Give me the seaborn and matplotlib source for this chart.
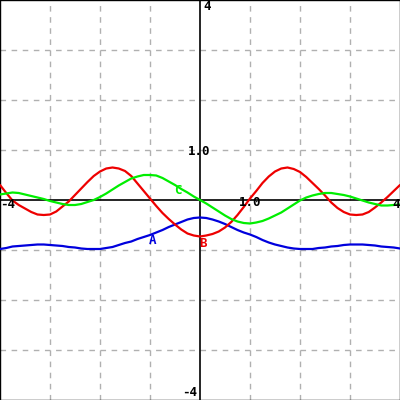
import matplotlib
matplotlib.use("Agg")
import matplotlib.pyplot as plt
import pandas as pd
import seaborn as sns

sns.set_style("white")
plt.rcParams['font.family'] = ['DejaVu Sans Mono', 'DejaVu Sans']

# x positions where the curves were read (every 0.125 from -4 to 4)
x_vals = [-4.0, -3.875, -3.75, -3.625, -3.5, -3.375, -3.25, -3.125,
          -3.0, -2.875, -2.75, -2.625, -2.5, -2.375, -2.25, -2.125,
          -2.0, -1.875, -1.75, -1.625, -1.5, -1.375, -1.25, -1.125,
          -1.0, -0.875, -0.75, -0.625, -0.5, -0.375, -0.25, -0.125,
          0.0, 0.125, 0.25, 0.375, 0.5, 0.625, 0.75, 0.875,
          1.0, 1.125, 1.25, 1.375, 1.5, 1.625, 1.75, 1.875,
          2.0, 2.125, 2.25, 2.375, 2.5, 2.625, 2.75, 2.875,
          3.0, 3.125, 3.25, 3.375, 3.5, 3.625, 3.75, 3.875, 4.0]

curve_a = [-0.98, -0.96, -0.93, -0.92, -0.91, -0.90, -0.89, -0.89,
           -0.90, -0.91, -0.92, -0.94, -0.95, -0.97, -0.98, -0.98,
           -0.98, -0.96, -0.94, -0.90, -0.86, -0.83, -0.78, -0.74,
           -0.70, -0.65, -0.60, -0.54, -0.49, -0.44, -0.39, -0.36,
           -0.35, -0.36, -0.39, -0.43, -0.48, -0.54, -0.60, -0.65,
           -0.69, -0.74, -0.80, -0.85, -0.89, -0.92, -0.95, -0.97,
           -0.98, -0.98, -0.98, -0.96, -0.95, -0.93, -0.92, -0.90,
           -0.89, -0.89, -0.89, -0.90, -0.91, -0.93, -0.94, -0.95, -0.97]
curve_b = [0.30, 0.14, -0.01, -0.10, -0.17, -0.24, -0.29, -0.30,
           -0.29, -0.23, -0.13, -0.03, 0.10, 0.23, 0.36, 0.48,
           0.57, 0.63, 0.65, 0.63, 0.58, 0.48, 0.33, 0.18,
           0.03, -0.12, -0.26, -0.38, -0.49, -0.59, -0.67, -0.71,
           -0.73, -0.71, -0.68, -0.63, -0.55, -0.44, -0.30, -0.14,
           0.03, 0.18, 0.34, 0.47, 0.57, 0.63, 0.65, 0.62,
           0.56, 0.46, 0.34, 0.22, 0.09, -0.05, -0.16, -0.24,
           -0.29, -0.30, -0.29, -0.24, -0.15, -0.05, 0.06, 0.18, 0.30]
curve_c = [0.11, 0.13, 0.15, 0.14, 0.11, 0.08, 0.05, 0.02,
           -0.02, -0.05, -0.08, -0.10, -0.10, -0.08, -0.04, 0.00,
           0.06, 0.13, 0.21, 0.29, 0.36, 0.43, 0.47, 0.50,
           0.50, 0.49, 0.44, 0.37, 0.30, 0.22, 0.15, 0.07,
           0.00, -0.07, -0.15, -0.23, -0.31, -0.38, -0.43, -0.46,
           -0.47, -0.45, -0.42, -0.37, -0.31, -0.25, -0.17, -0.09,
           -0.01, 0.05, 0.09, 0.12, 0.14, 0.14, 0.12, 0.10,
           0.07, 0.03, -0.01, -0.05, -0.08, -0.11, -0.11, -0.10, -0.09]

names = ['A', 'B', 'C']
colors = {'A': '#0000dd', 'B': '#ee0000', 'C': '#00ee00'}
label_pos = {'A': (-0.95, -0.82), 'B': (0.06, -0.87), 'C': (-0.44, 0.2)}

df = pd.concat([
    pd.DataFrame({'x': x_vals, 'y': vals, 'curve': n})
    for n, vals in zip(names, [curve_a, curve_b, curve_c])
])

fig = plt.figure(figsize=(4, 4), dpi=100)
ax = fig.add_axes([0, 0, 1, 1])

# dashed grid every unit, solid axes through the origin
for v in range(-3, 4):
    if v == 0:
        continue
    ax.axvline(v, color='#b0b0b0', lw=1, ls=(0, (4, 4)), zorder=0)
    ax.axhline(v, color='#b0b0b0', lw=1, ls=(0, (4, 4)), zorder=0)
ax.axhline(0, color='black', lw=1.2, zorder=1)
ax.axvline(0, color='black', lw=1.2, zorder=1)

sns.lineplot(data=df, x='x', y='y', hue='curve', palette=colors,
             linewidth=1.6, legend=False, ax=ax, zorder=3)

for n in names:
    ax.text(*label_pos[n], n, color=colors[n], fontsize=9, fontweight='bold',
            ha='center', va='center', zorder=4)

tick_kw = dict(fontsize=9, fontweight='bold', color='black', zorder=5)
ax.text(0.06, 3.87, '4', ha='left', va='center', **tick_kw)
ax.text(-0.06, -3.86, '-4', ha='right', va='center', **tick_kw)
ax.text(-3.99, -0.1, '-4', ha='left', va='center', **tick_kw)
ax.text(3.99, -0.1, '4', ha='right', va='center', **tick_kw)
ax.text(-0.02, 0.97, '1.0', ha='center', va='center', **tick_kw)
ax.text(1.0, -0.05, '1.0', ha='center', va='center', **tick_kw)

ax.set_xlim(-4, 4)
ax.set_ylim(-4, 4)
ax.set_xticks([])
ax.set_yticks([])
ax.set_xlabel('')
ax.set_ylabel('')
for s in ax.spines.values():
    s.set_color('black')
    s.set_linewidth(1)

fig.savefig('out.png', dpi=100)
